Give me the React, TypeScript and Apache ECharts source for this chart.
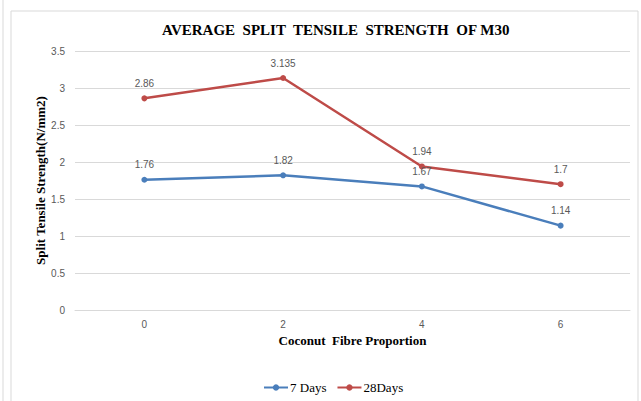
import React, { useEffect, useRef } from "react";
import * as echarts from "echarts";

const categories = ["0", "2", "4", "6"];
const days7 = [1.76, 1.82, 1.67, 1.14];
const days28 = [2.86, 3.135, 1.94, 1.7];
const yTicks = { min: 0, max: 3.5, interval: 0.5 };

const SERIF = "'Liberation Serif', 'Times New Roman', serif";
const SANS = "'Liberation Sans', Arial, sans-serif";

export default function App() {
  const ref = useRef<HTMLDivElement>(null);
  useEffect(() => {
    const chart = echarts.init(ref.current!, null, { renderer: "svg" });
    const labelStyle = {
      show: true,
      position: "top" as const,
      distance: 7,
      color: "#595959",
      fontSize: 10,
      fontFamily: SANS,
    };
    chart.setOption({
      animation: false,
      backgroundColor: "#ffffff",
      graphic: [
        {
          type: "rect",
          shape: { x: 11, y: 11, width: 627, height: 400 },
          style: { fill: "none", stroke: "#d9d9d9", lineWidth: 1 },
        },
        {
          type: "line",
          shape: { x1: 3, y1: 0, x2: 3, y2: 401 },
          style: { stroke: "#d9d9d9", lineWidth: 1 },
        },
      ],
      title: {
        text: "AVERAGE  SPLIT  TENSILE  STRENGTH  OF M30",
        left: 157,
        top: 17,
        textStyle: {
          fontFamily: SERIF,
          fontWeight: "bold",
          fontSize: 15,
          color: "#000000",
        },
      },
      legend: {
        top: 376,
        left: 258,
        itemWidth: 24,
        itemHeight: 8,
        itemGap: 10,
        textStyle: {
          fontFamily: SERIF,
          fontSize: 13,
          color: "#000",
          padding: [0, 0, 0, -3],
        },
        data: ["7 Days", "28Days"],
      },
      grid: { left: 75, right: 11, top: 51, bottom: 91, containLabel: false },
      xAxis: {
        type: "category",
        data: categories,
        boundaryGap: true,
        axisLine: { show: true, lineStyle: { color: "#d9d9d9" } },
        axisTick: { show: false },
        axisLabel: {
          color: "#595959",
          fontSize: 10,
          margin: 9,
          fontFamily: SANS,
        },
        name: "Coconut  Fibre Proportion",
        nameLocation: "middle",
        nameGap: 24,
        nameTextStyle: {
          fontFamily: SERIF,
          fontWeight: "bold",
          fontSize: 13,
          color: "#000",
        },
      },
      yAxis: {
        type: "value",
        min: yTicks.min,
        max: yTicks.max,
        interval: yTicks.interval,
        axisLine: { show: false },
        axisTick: { show: false },
        splitLine: { lineStyle: { color: "#d9d9d9" } },
        axisLabel: {
          color: "#595959",
          fontSize: 10,
          margin: 10,
          fontFamily: SANS,
        },
        name: "Split Tensile Strength(N/mm2)",
        nameLocation: "middle",
        nameGap: 28,
        nameMoveOverlap: false,
        nameTextStyle: {
          fontFamily: SERIF,
          fontWeight: "bold",
          fontSize: 13,
          color: "#000",
        },
      },
      series: [
        {
          name: "7 Days",
          type: "line",
          data: days7,
          color: "#4a7ebb",
          lineStyle: { width: 2.5 },
          symbol: "circle",
          symbolSize: 6,
          label: labelStyle,
        },
        {
          name: "28Days",
          type: "line",
          data: days28,
          color: "#be4b48",
          lineStyle: { width: 2.5 },
          symbol: "circle",
          symbolSize: 6,
          label: labelStyle,
        },
      ],
    });
    return () => chart.dispose();
  }, []);
  return (
    <div
      ref={ref}
      style={{ position: "absolute", left: 0, top: 0, width: 641, height: 401 }}
    />
  );
}
